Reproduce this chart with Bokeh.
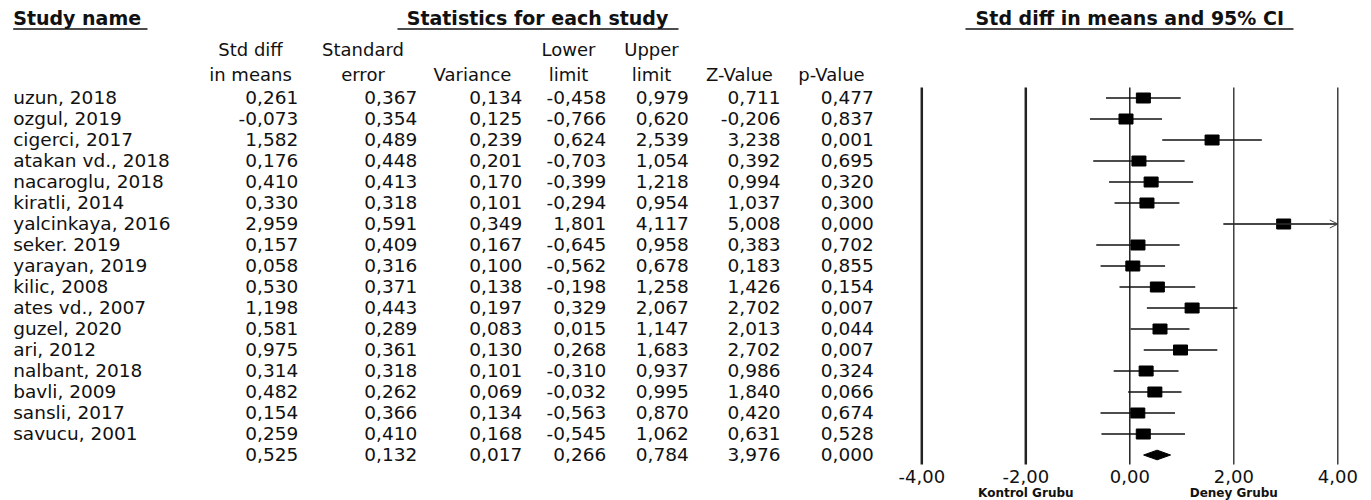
from bokeh.plotting import figure
from bokeh.models import Range1d, ColumnDataSource, Arrow, OpenHead
from bokeh.core.properties import value
from bokeh.embed import file_html
from bokeh.resources import INLINE

# ---------------- data ----------------
studies = ["uzun, 2018", "ozgul, 2019", "cigerci, 2017", "atakan vd., 2018",
           "nacaroglu, 2018", "kiratli, 2014", "yalcinkaya, 2016", "seker. 2019",
           "yarayan, 2019", "kilic, 2008", "ates vd., 2007", "guzel, 2020",
           "ari, 2012", "nalbant, 2018", "bavli, 2009", "sansli, 2017",
           "savucu, 2001", ""]
smd = [0.261, -0.073, 1.582, 0.176, 0.410, 0.330, 2.959, 0.157, 0.058, 0.530,
       1.198, 0.581, 0.975, 0.314, 0.482, 0.154, 0.259, 0.525]
std_err = [0.367, 0.354, 0.489, 0.448, 0.413, 0.318, 0.591, 0.409, 0.316, 0.371,
           0.443, 0.289, 0.361, 0.318, 0.262, 0.366, 0.410, 0.132]
variance = [0.134, 0.125, 0.239, 0.201, 0.170, 0.101, 0.349, 0.167, 0.100, 0.138,
            0.197, 0.083, 0.130, 0.101, 0.069, 0.134, 0.168, 0.017]
lower = [-0.458, -0.766, 0.624, -0.703, -0.399, -0.294, 1.801, -0.645, -0.562, -0.198,
         0.329, 0.015, 0.268, -0.310, -0.032, -0.563, -0.545, 0.266]
upper = [0.979, 0.620, 2.539, 1.054, 1.218, 0.954, 4.117, 0.958, 0.678, 1.258,
         2.067, 1.147, 1.683, 0.937, 0.995, 0.870, 1.062, 0.784]
z_value = [0.711, -0.206, 3.238, 0.392, 0.994, 1.037, 5.008, 0.383, 0.183, 1.426,
           2.702, 2.013, 2.702, 0.986, 1.840, 0.420, 0.631, 3.976]
p_value = [0.477, 0.837, 0.001, 0.695, 0.320, 0.300, 0.000, 0.702, 0.855, 0.154,
           0.007, 0.044, 0.007, 0.324, 0.066, 0.674, 0.528, 0.000]

tick_values = [-4, -2, 0, 2, 4]
tick_labels = ["-4,00", "-2,00", "0,00", "2,00", "4,00"]
axis_min, axis_max = -4, 4
left_label, right_label = "Kontrol Grubu", "Deney Grubu"

# ---------------- layout ----------------
W, H = 1371, 500
X0, PXU = 1129.3, 52.0      # pixel of effect 0, pixels per unit
ROW0, ROWH = 97.5, 21.0     # pixel of first row, row height
FONT = value("DejaVu Sans")
INK = "#111111"

def fmt(v):
    return format(v, ".3f").replace(".", ",")

n = len(studies)
rows = list(range(n))
n_ind = n - 1  # last row is the pooled summary

p = figure(width=W, height=H, x_range=Range1d(0, W), y_range=Range1d(H, 0),
           output_backend="svg", toolbar_location=None, min_border=0)
p.axis.visible = False
p.grid.visible = False
p.outline_line_color = None
p.background_fill_color = "white"
p.border_fill_color = "white"
p.extra_x_ranges = {"es": Range1d(-X0 / PXU, (W - X0) / PXU)}
p.extra_y_ranges = {"rows": Range1d((H - ROW0) / ROWH, -ROW0 / ROWH)}

# ---------------- headers ----------------
hdr = dict(text_font=FONT, text_font_size="19px", text_font_style="bold",
           text_color=INK, text_baseline="middle")
p.text(x=[12.7], y=[17], text=["Study name"], text_align="left", **hdr)
p.text(x=[537], y=[17], text=["Statistics for each study"], text_align="center", **hdr)
p.text(x=[0], y=[17], text=["Std diff in means and 95% CI"], text_align="center",
       x_range_name="es", **hdr)
p.segment(x0=[12.7, 397, 965], y0=[28.5] * 3, x1=[147, 678, 1293], y1=[28.5] * 3,
          line_color=INK, line_width=1.5)

col_hdr = dict(text_font=FONT, text_font_size="18px", text_color=INK,
               text_baseline="middle", text_align="center")
line1 = ["Std diff", "Standard", "", "Lower", "Upper", "", ""]
line2 = ["in means", "error", "Variance", "limit", "limit", "Z-Value", "p-Value"]
hdr_x = [250, 362.5, 472, 568, 651, 739, 831]
p.text(x=hdr_x, y=[48.5] * 7, text=line1, **col_hdr)
p.text(x=hdr_x, y=[73.5] * 7, text=line2, **col_hdr)

# ---------------- table ----------------
cell = dict(text_font=FONT, text_font_size="18.5px", text_color=INK,
            text_baseline="middle", y_offset=-1, y_range_name="rows")
p.text(x=[12.7] * n, y=rows, text=studies, text_align="left", **cell)
columns = [smd, std_err, variance, lower, upper, z_value, p_value]
col_right = [297.7, 416.7, 521.7, 605.7, 688.3, 780, 873.3]
for vals, xr in zip(columns, col_right):
    p.text(x=[xr] * n, y=rows, text=[fmt(v) for v in vals], text_align="right", **cell)

# ---------------- forest plot ----------------
ref_src = ColumnDataSource(dict(x=tick_values, y0=[-0.5] * 5, y1=[17.45] * 5,
                                w=[2.5, 2.5, 1.5, 1.3, 1.3]))
p.segment(x0="x", y0="y0", x1="x", y1="y1", line_width="w", line_color="#222222",
          source=ref_src, x_range_name="es", y_range_name="rows")

ci_hi = [min(u, axis_max) for u in upper[:n_ind]]
ci_lo = [max(l, axis_min) for l in lower[:n_ind]]
p.segment(x0=ci_lo, y0=rows[:n_ind], x1=ci_hi, y1=rows[:n_ind], line_color=INK,
          line_width=1.5, x_range_name="es", y_range_name="rows")
for i in range(n_ind):
    if upper[i] > axis_max:
        p.add_layout(Arrow(end=OpenHead(size=8, line_width=1, line_color="#444444"),
                           x_start=lower[i], x_end=axis_max, y_start=i, y_end=i,
                           line_width=1.2, line_color="#444444",
                           x_range_name="es", y_range_name="rows"))

p.rect(x=smd[:n_ind], y=rows[:n_ind], width=14, height=10, width_units="screen",
       height_units="screen", fill_color="black", line_color="black",
       x_range_name="es", y_range_name="rows")

s = n_ind
dh = 0.23
p.patch(x=[lower[s], smd[s], upper[s], smd[s]], y=[s, s - dh, s, s + dh],
        fill_color="black", line_color="black", x_range_name="es", y_range_name="rows")

p.text(x=tick_values, y=[476] * 5, text=tick_labels, text_font=FONT,
       text_font_size="18px", text_color=INK, text_align="center",
       text_baseline="middle", x_range_name="es")
p.text(x=[-2, 2], y=[492.5, 492.5], text=[left_label, right_label], text_font=FONT,
       text_font_size="12px", text_font_style="bold", text_color=INK,
       text_align="center", text_baseline="middle", x_range_name="es")

open("out.html", "w").write(file_html(p, INLINE))
